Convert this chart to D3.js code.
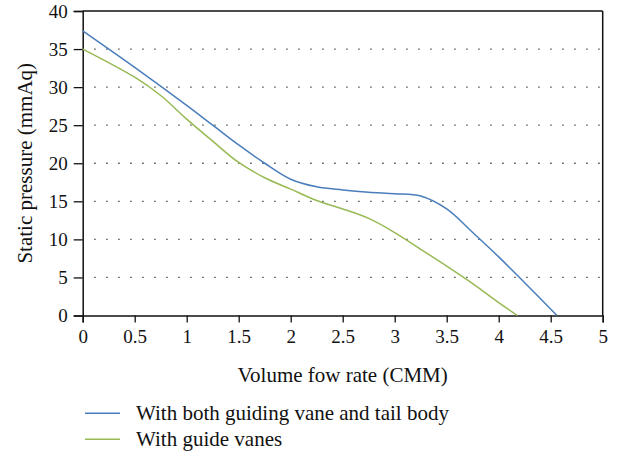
<!DOCTYPE html>
<html>
<head>
<meta charset="utf-8">
<script src="https://cdn.jsdelivr.net/npm/d3@7"></script>
<style>
  html, body { margin: 0; padding: 0; background: #fff; }
  svg { display: block; }
  text { font-family: "Liberation Serif", "Times New Roman", Times, serif; fill: #111; }
</style>
</head>
<body>
<svg id="chart" width="617" height="456"></svg>
<script>
// Fan performance curves: static pressure vs. volume flow rate
const flowBoth = [0, 0.5, 1, 1.25, 1.5, 1.75, 2, 2.25, 2.5, 2.75, 3, 3.25, 3.5, 3.75, 4, 4.25, 4.56];
const pressureBoth = [37.4, 32.6, 27.6, 25.0, 22.4, 20.0, 17.9, 16.9, 16.5, 16.2, 16.0, 15.7, 14.0, 10.9, 7.7, 4.3, 0];

const flowGuide = [0, 0.5, 0.75, 1, 1.25, 1.5, 1.75, 2, 2.25, 2.5, 2.75, 3, 3.25, 3.5, 3.75, 4, 4.18];
const pressureGuide = [35.0, 31.3, 28.9, 25.8, 22.9, 20.1, 18.1, 16.6, 15.1, 14.0, 12.75, 10.9, 8.7, 6.5, 4.2, 1.7, 0];

const xTicks = [0, 0.5, 1, 1.5, 2, 2.5, 3, 3.5, 4, 4.5, 5];
const yTicks = [0, 5, 10, 15, 20, 25, 30, 35, 40];
const gridLevels = [5, 10, 15, 20, 25, 30, 35];

const seriesNames = ["With both guiding vane and tail body", "With guide vanes"];
const seriesColors = ["#4a7ebb", "#98b954"];

const xTitle = "Volume fow rate (CMM)";
const yTitle = "Static pressure (mmAq)";

const serif = "'Liberation Serif', 'Times New Roman', Times, serif";

const svg = d3.select("#chart");
const plot = { left: 82.7, right: 602.7, top: 11, bottom: 315.5 };

const x = d3.scaleLinear().domain([0, 5]).range([plot.left, plot.right]);
const y = d3.scaleLinear().domain([0, 40]).range([plot.bottom, plot.top]);

// dotted horizontal gridlines
svg.append("g")
  .selectAll("line")
  .data(gridLevels)
  .join("line")
  .attr("x1", plot.left + 11.6)
  .attr("x2", plot.right)
  .attr("y1", d => y(d))
  .attr("y2", d => y(d))
  .attr("stroke", "#333")
  .attr("stroke-width", 1.3)
  .attr("stroke-dasharray", "1.3,10.7");

// frame: top and right borders
svg.append("line")
  .attr("x1", plot.left).attr("x2", plot.right)
  .attr("y1", plot.top).attr("y2", plot.top)
  .attr("stroke", "#111").attr("stroke-width", 1.5);
svg.append("line")
  .attr("x1", plot.right).attr("x2", plot.right)
  .attr("y1", plot.top).attr("y2", plot.bottom)
  .attr("stroke", "#111").attr("stroke-width", 1.5);

// axes
const xAxis = d3.axisBottom(x)
  .tickValues(xTicks)
  .tickFormat(d => String(d))
  .tickSize(7)
  .tickPadding(7);
const yAxis = d3.axisLeft(y)
  .tickValues(yTicks)
  .tickFormat(d => String(d))
  .tickSize(9)
  .tickPadding(6);

const gx = svg.append("g").attr("transform", `translate(0,${plot.bottom})`).call(xAxis);
const gy = svg.append("g").attr("transform", `translate(${plot.left},0)`).call(yAxis);

[gx, gy].forEach(g => {
  g.attr("font-family", serif).attr("font-size", 19);
  g.select(".domain").attr("stroke", "#111").attr("stroke-width", 1.5);
  g.selectAll(".tick line").attr("stroke", "#111").attr("stroke-width", 1.3);
  g.selectAll(".tick text").attr("fill", "#111");
});
gx.selectAll(".tick text").attr("dy", "0.72em");

// curves
const line = d3.line()
  .x(d => x(d[0]))
  .y(d => y(d[1]))
  .curve(d3.curveCatmullRom.alpha(0.5));

const series = [
  d3.zip(flowBoth, pressureBoth),
  d3.zip(flowGuide, pressureGuide)
];

svg.append("g")
  .selectAll("path")
  .data(series)
  .join("path")
  .attr("d", line)
  .attr("fill", "none")
  .attr("stroke", (d, i) => seriesColors[i])
  .attr("stroke-width", 1.5);

// axis titles
svg.append("text")
  .attr("x", (plot.left + plot.right) / 2)
  .attr("y", 381.5)
  .attr("text-anchor", "middle")
  .attr("font-size", 21)
  .text(xTitle);

svg.append("text")
  .attr("transform", `translate(32,${(plot.top + plot.bottom) / 2}) rotate(-90)`)
  .attr("text-anchor", "middle")
  .attr("font-size", 21)
  .text(yTitle);

// legend
const legend = svg.append("g")
  .selectAll("g")
  .data(seriesNames)
  .join("g")
  .attr("transform", (d, i) => `translate(85,${413.3 + i * 26})`);

legend.append("line")
  .attr("x1", 0).attr("x2", 35)
  .attr("y1", 0).attr("y2", 0)
  .attr("stroke", (d, i) => seriesColors[i])
  .attr("stroke-width", 1.5);

legend.append("text")
  .attr("x", 51)
  .attr("y", 7)
  .attr("font-size", 21)
  .text(d => d);
</script>
</body>
</html>
